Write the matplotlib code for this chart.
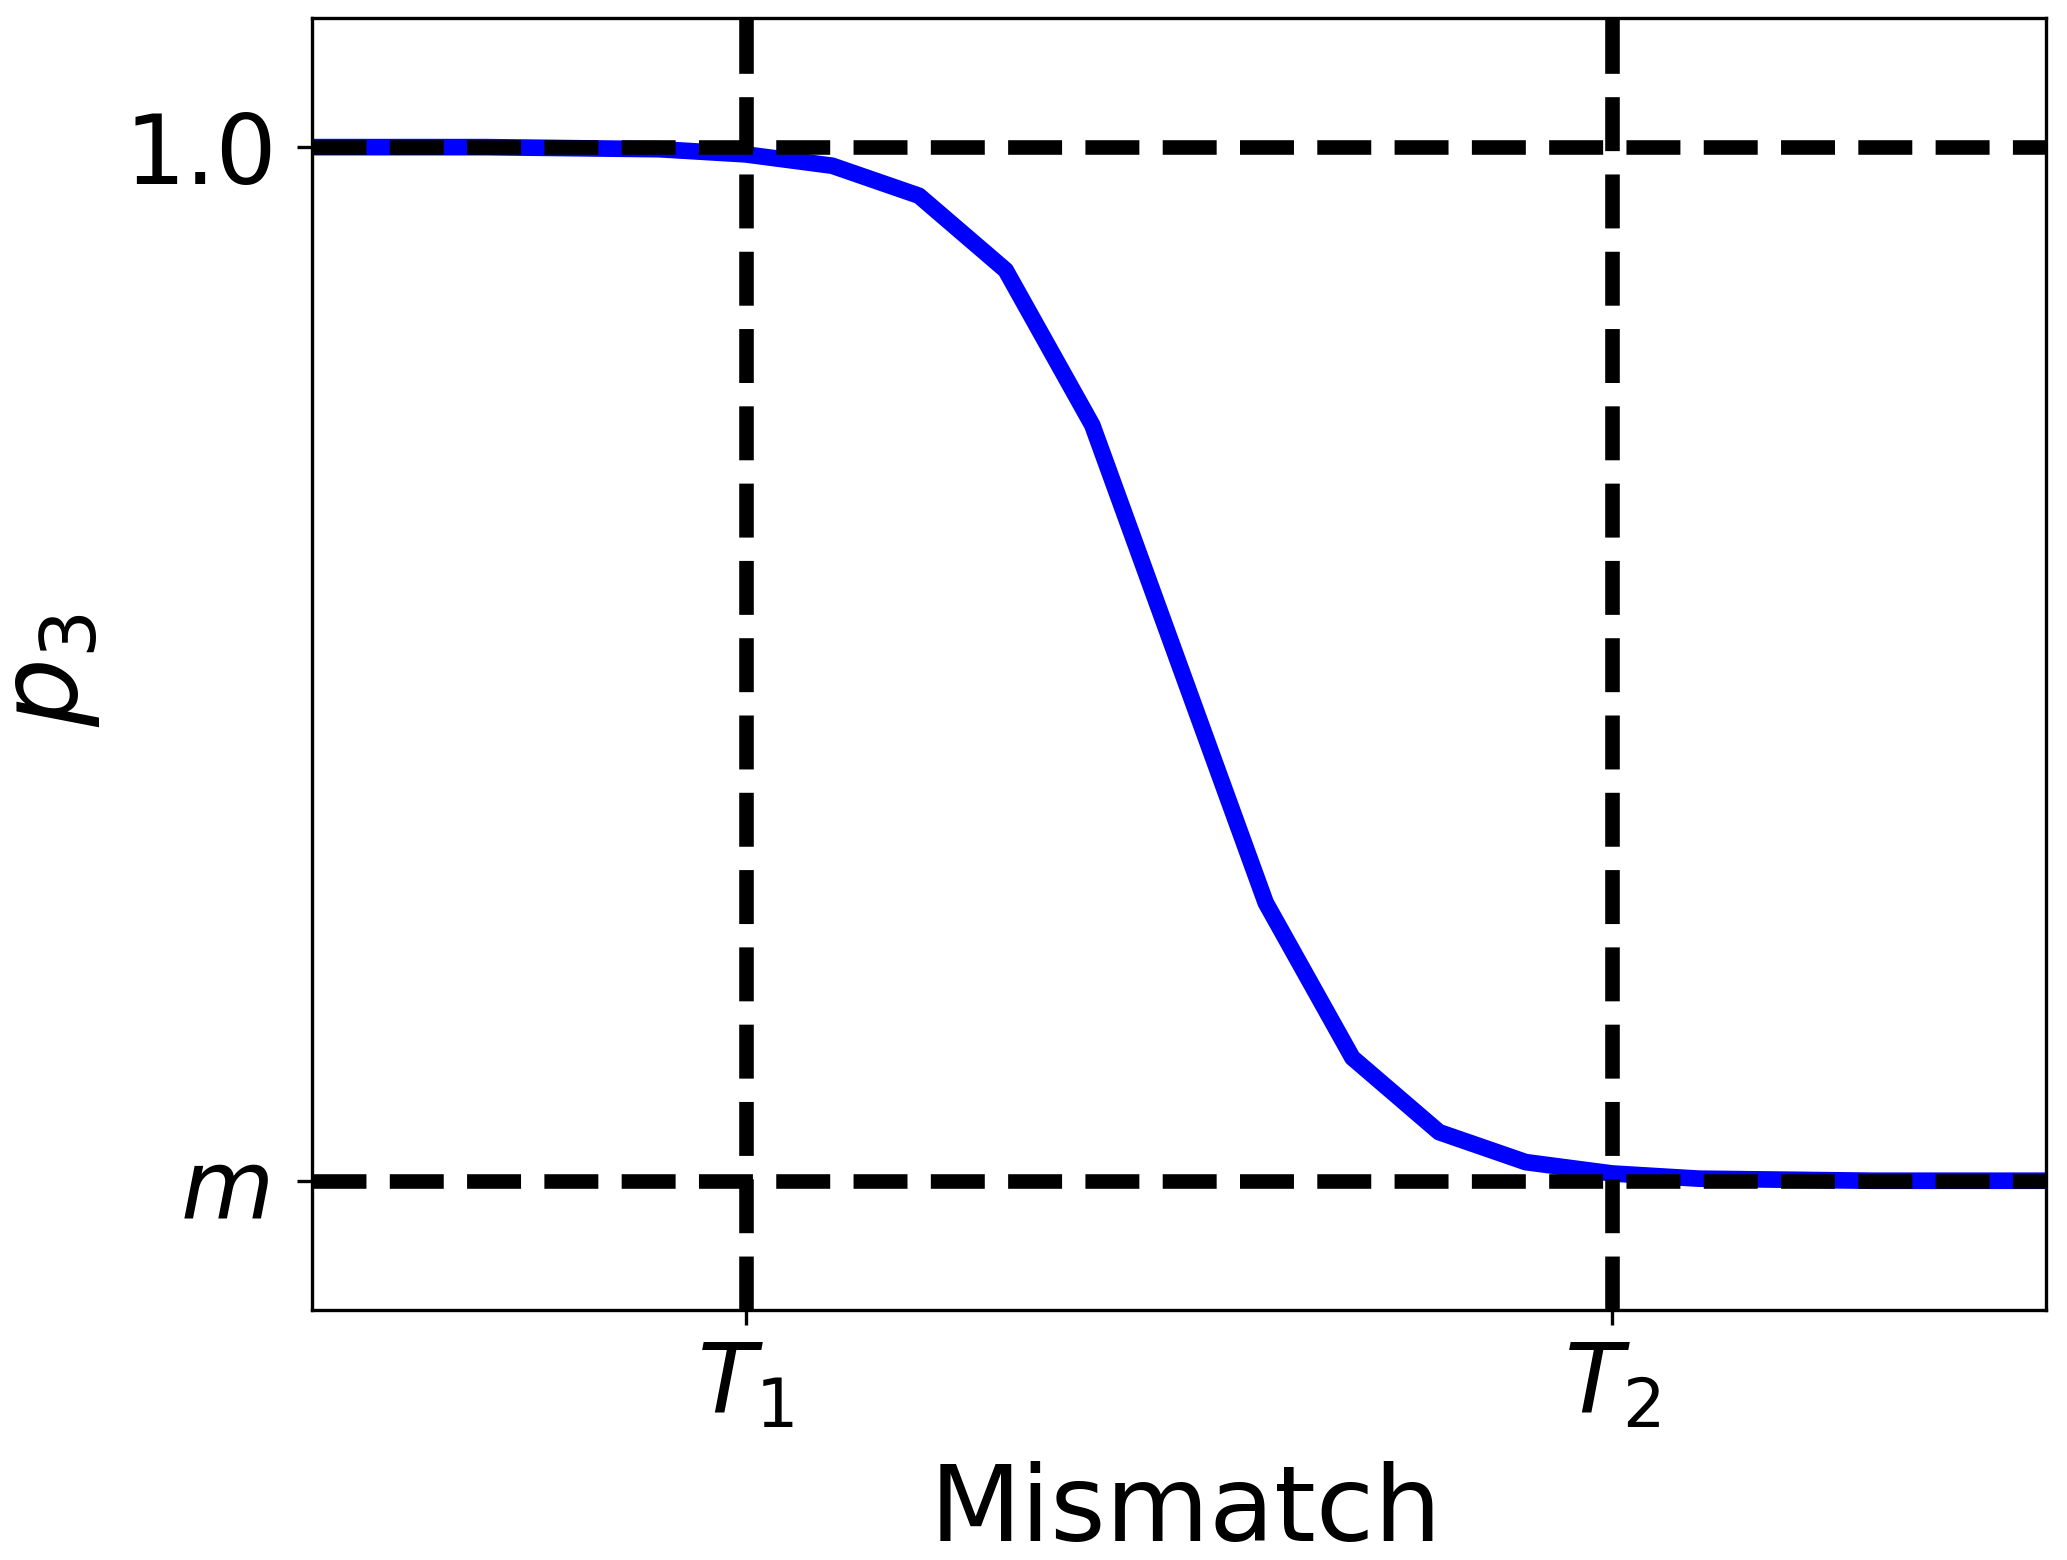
import matplotlib
matplotlib.use("Agg")
import matplotlib.pyplot as plt

# mismatch steps and p3 values
mismatch = [0, 1, 2, 3, 4, 5, 6, 7, 8, 9, 10,
            11, 12, 13, 14, 15, 16, 17, 18, 19, 20]
p3 = [1.000, 1.000, 1.000, 0.999, 0.998, 0.993, 0.982, 0.953, 0.881, 0.731, 0.500,
      0.269, 0.119, 0.047, 0.018, 0.007, 0.002, 0.001, 0.000, 0.000, 0.000]

T1, T2 = 5, 15
m_level, top_level = 0.0, 1.0
xtick_labels = [r"$T_1$", r"$T_2$"]
ytick_labels = [r"$m$", "1.0"]

fig = plt.figure(figsize=(2067 / 300, 1560 / 300), dpi=300)
ax = fig.add_axes([0.151, 0.1603, 0.9898 - 0.151, 0.9885 - 0.1603])

ax.plot(mismatch, p3, color="blue", lw=4, zorder=2)
ax.axhline(top_level, color="black", ls="--", lw=3.5, zorder=3)
ax.axhline(m_level, color="black", ls="--", lw=3.5, zorder=3)
ax.axvline(T1, color="black", ls="--", lw=3.5, zorder=3)
ax.axvline(T2, color="black", ls="--", lw=3.5, zorder=3)

ax.set_xlim(0, 20)
ax.set_ylim(-0.125, 1.125)
ax.set_xticks([T1, T2])
ax.set_xticklabels(xtick_labels, fontsize=23)
ax.set_yticks([m_level, top_level])
ax.set_yticklabels(ytick_labels, fontsize=23)
ax.tick_params(axis="y", pad=5)
ax.yaxis.get_major_ticks()[0].set_pad(7)  # the m label sits a bit further out

ax.set_xlabel("Mismatch", fontsize=25.5)
ax.xaxis.set_label_coords(0.504, -0.117)
ax.set_ylabel(r"$p_3$", fontsize=26, labelpad=5.3)
ax.yaxis.label.set_y(0.495)

fig.savefig("out.png", dpi=300)
